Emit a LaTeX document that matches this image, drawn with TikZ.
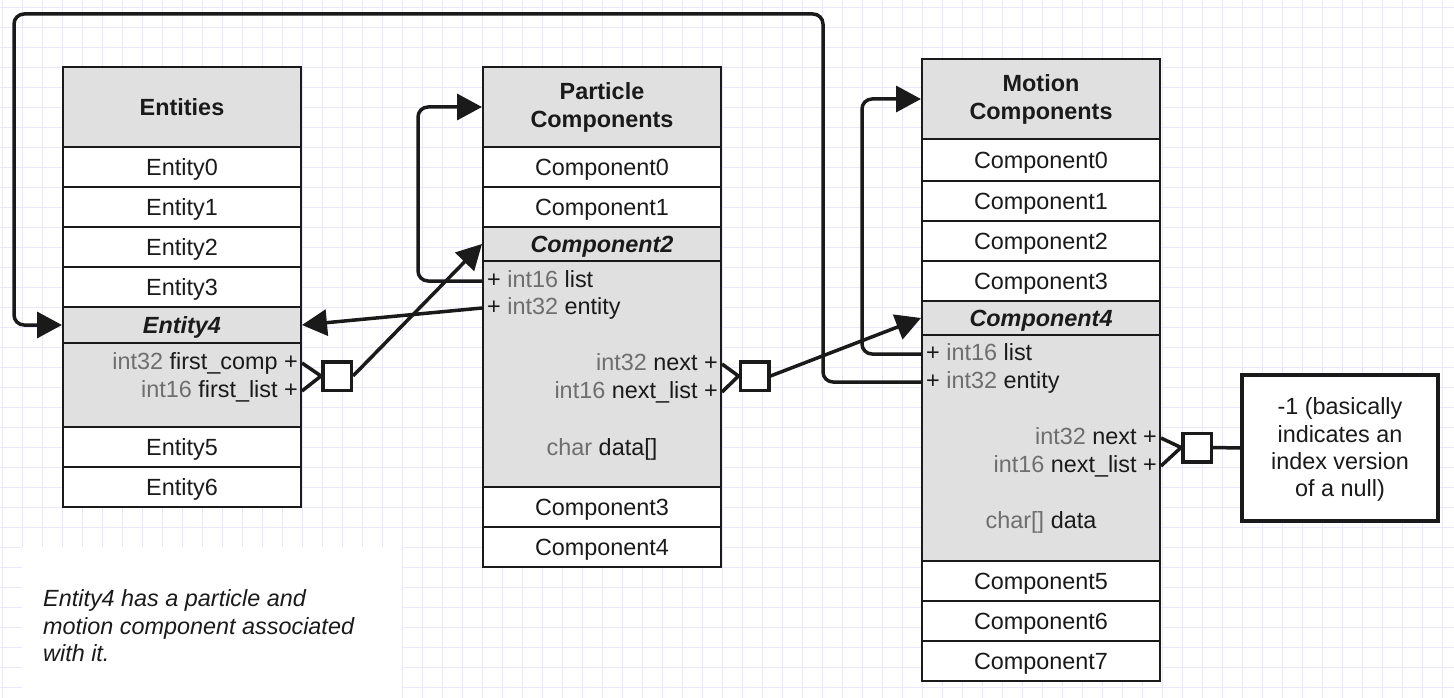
\documentclass[tikz,border=0pt]{standalone}
\usepackage{fontspec}
\setmainfont{Liberation Sans}
\usetikzlibrary{arrows.meta}
\definecolor{ln}{RGB}{26,26,26}
\definecolor{hdr}{RGB}{224,224,224}
\definecolor{gridc}{RGB}{232,232,250}
\definecolor{typec}{RGB}{110,110,110}
\newcommand{\fs}{\fontsize{23.4}{28}\selectfont}
\newcommand{\ty}[1]{\textcolor{typec}{#1}}
\begin{document}
\begin{tikzpicture}[x=1pt,y=-1pt,
  cell/.style={draw=ln, line width=2pt, minimum width=238pt, inner sep=0pt, font=\fs, text=ln, text height=16.7pt, text depth=0pt},
  wrow/.style={cell, fill=white, minimum height=40pt},
  greyrow/.style={cell, fill=hdr, font=\fs\bfseries\itshape},
  gbody/.style={cell, fill=hdr},
  hdrbox/.style={draw=ln, line width=2pt, fill=hdr, minimum width=238pt, minimum height=80pt, inner sep=0pt, font=\fontsize{23.4}{28}\selectfont\bfseries, text=ln, align=center},
  field/.style={inner sep=0pt, font=\fs, text=ln, text height=17pt, text depth=5pt},
  marker/.style={draw=ln, line width=3.5pt, fill=white, minimum size=28.5pt, inner sep=0pt},
  conn/.style={draw=ln, line width=3.5pt, rounded corners=10pt},
  arr/.style={-{Triangle[length=25pt,width=26pt]}},
  plain/.style={draw=ln, line width=3.5pt},
  notebox/.style={draw=ln, line width=4pt, fill=white, minimum width=196pt, minimum height=146pt, inner sep=0pt},
  boxtext/.style={inner sep=0pt, align=center, font=\fontsize{23.4}{27.3}\selectfont, text=ln},
  notetext/.style={inner sep=0pt, align=left, font=\fontsize{23.4}{27.5}\selectfont\itshape, text=ln}
]
\useasboundingbox (0,0) rectangle (1454,698);
\fill[white] (0,0) rectangle (1454,698);
\foreach \x in {2.7,22.7,...,1454} \draw[gridc, line width=1pt] (\x,0) -- (\x,698);
\foreach \y in {7.3,27.3,...,698} \draw[gridc, line width=1pt] (0,\y) -- (1454,\y);
\fill[white] (22,547) rectangle (402,698);

% Entities table
\node[hdrbox] (eh) at (182,107) {Entities};
\node[wrow] (e0) at (182,167) {Entity0};
\node[wrow] (e1) at (182,207) {Entity1};
\node[wrow] (e2) at (182,247) {Entity2};
\node[wrow] (e3) at (182,287) {Entity3};
\node[greyrow, minimum height=36pt] (e4) at (182,325) {Entity4};
\node[gbody, minimum height=84pt] (ebody) at (182,385) {};
\node[wrow] (e5) at (182,447) {Entity5};
\node[wrow] (e6) at (182,487) {Entity6};
\node[field, anchor=base east] (efc) at (298,369) {\ty{int32} first\_comp +};
\node[field, anchor=base east] (efl) at (298,397) {\ty{int16} first\_list +};

% Particle table
\node[hdrbox] (ph) at (602,107) {Particle\\Components};
\node[wrow] (p0) at (602,167) {Component0};
\node[wrow] (p1) at (602,207) {Component1};
\node[greyrow, minimum height=34pt] (p2) at (602,244) {Component2};
\node[gbody, minimum height=226pt] (pbody) at (602,374) {};
\node[wrow] (p3) at (602,507) {Component3};
\node[wrow] (p4) at (602,547) {Component4};
\node[field, anchor=base west] (plist) at (487,287) {+ \ty{int16} list};
\node[field, anchor=base west] (pent) at (487,314) {+ \ty{int32} entity};
\node[field, anchor=base east] (pnext) at (718,370) {\ty{int32} next +};
\node[field, anchor=base east] (pnl) at (718,398) {\ty{int16} next\_list +};
\node[field, anchor=base] (pdata) at (602,455) {\ty{char} data[]};

% Motion table
\node[hdrbox] (mh) at (1041,99) {Motion\\Components};
\node[wrow, minimum height=42pt] (m0) at (1041,160) {Component0};
\node[wrow] (m1) at (1041,201) {Component1};
\node[wrow] (m2) at (1041,241) {Component2};
\node[wrow] (m3) at (1041,281) {Component3};
\node[greyrow, minimum height=34pt] (m4) at (1041,318) {Component4};
\node[gbody, minimum height=226pt] (mbody) at (1041,448) {};
\node[wrow] (m5) at (1041,581) {Component5};
\node[wrow] (m6) at (1041,621) {Component6};
\node[wrow] (m7) at (1041,661) {Component7};
\node[field, anchor=base west] (mlist) at (926,360) {+ \ty{int16} list};
\node[field, anchor=base west] (ment) at (926,388) {+ \ty{int32} entity};
\node[field, anchor=base east] (mnext) at (1157,444) {\ty{int32} next +};
\node[field, anchor=base east] (mnl) at (1157,472) {\ty{int16} next\_list +};
\node[field, anchor=base] (mdata) at (1041,528) {\ty{char[]} data};

% markers and null box
\node[marker] (sq1) at (337,376) {};
\node[marker] (sq2) at (754.5,376) {};
\node[marker] (sq3) at (1197,447.5) {};
\node[notebox] (nullbox) at (1340,448) {};
\node[boxtext, anchor=base] (nulltext) at (1340,496.7) {-1 (basically\\indicates an\\index version\\of a null)};

% note
\node[notetext, anchor=base west] (note) at (43,661.7) {Entity4 has a particle and\\motion component associated\\with it.};

% connectors
\coordinate (k1) at (823,14);
\coordinate (k2) at (14,14);
\draw[conn,arr] (mbody.west |- ment) -| (k1) -- (k2) |- (e4.west);
\draw[conn,arr] (pbody.west |- plist) -| ([xshift=-64pt]ph.west) -- (ph.west);
\draw[conn,arr] (mbody.west |- mlist) -| ([xshift=-59pt]mh.west) -- (mh.west);
\draw[plain,arr] (pbody.west |- pent) -- (e4.east);
\draw[plain] (ebody.east |- efc) -- (sq1.west) -- (ebody.east |- efl);
\draw[plain,arr] (sq1.east) -- (p2.west);
\draw[plain] (pbody.east |- pnext) -- (sq2.west) -- (pbody.east |- pnl);
\draw[plain,arr] (sq2.east) -- (m4.west);
\draw[plain] (mbody.east |- mnext) -- (sq3.west) -- (mbody.east |- mnl);
\draw[plain] (sq3.east) -- (nullbox.west);
\end{tikzpicture}
\end{document}
